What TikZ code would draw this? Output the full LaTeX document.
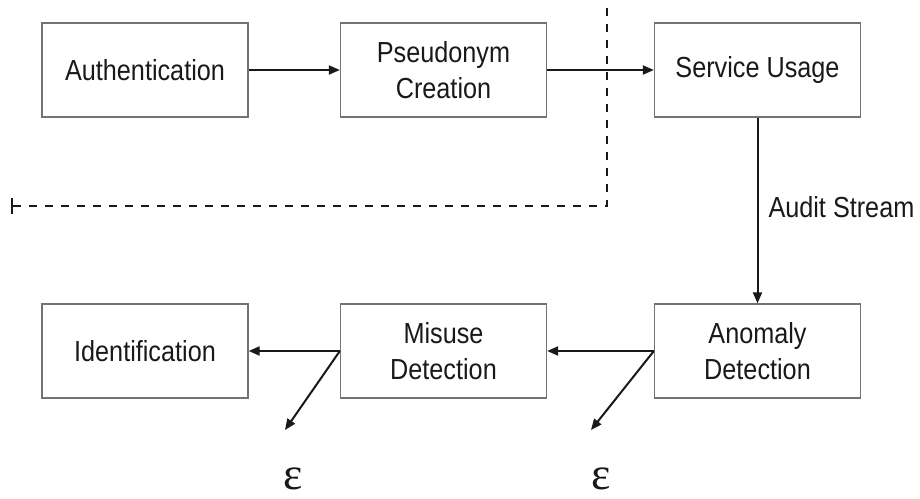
\documentclass[tikz,border=0pt]{standalone}
\usepackage{fontspec}
\setmainfont{Liberation Sans}[FakeStretch=0.87]
\newfontfamily\symserif{Liberation Serif}
\usetikzlibrary{arrows.meta}
\definecolor{boxgray}{gray}{0.45}
\definecolor{ink}{gray}{0.1}
\begin{document}
\begin{tikzpicture}[x=1pt,y=-1pt,
  label font/.style={font=\fontsize{29}{36}\selectfont, text=ink},
  box/.style={draw=boxgray, line width=1.3pt, minimum width=206pt, minimum height=94pt,
    inner sep=0pt, align=center, label font},
  flow/.style={draw=ink, line width=2pt, -{Triangle[length=11pt,width=9pt]}},
  boundary/.style={draw=ink, line width=2pt, dash pattern=on 8pt off 8pt},
  eps/.style={font=\symserif\fontsize{46}{46}\selectfont, text=ink, inner sep=0pt}]
\useasboundingbox (0,0) rectangle (920,498);

% upper row
\node[box] (auth)  at (145,70)   {Authentication};
\node[box] (pseud) at (443.5,70) {Pseudonym\\Creation};
\node[box] (serv)  at (757.5,70) {Service Usage};

% lower row
\node[box] (ident)  at (145,351)   {Identification};
\node[box] (misuse) at (443.5,351) {Misuse\\Detection};
\node[box] (anom)   at (757.5,351) {Anomaly\\Detection};

% trust boundary
\coordinate (btop) at (607,8);
\coordinate (bcorner) at (607,206);
\coordinate (bend) at (12,206);
\draw[boundary] (btop) -- (bcorner) -- (bend);
\draw[ink, line width=2pt] ([yshift=-8pt]bend) -- ([yshift=8pt]bend);

% flows
\draw[flow] (auth.east) -- (pseud.west);
\draw[flow] (pseud.east) -- (serv.west);
\draw[flow] (serv.south) -- node[right=8pt, pos=0.48, label font, inner sep=2pt] {Audit Stream} (anom.north);
\draw[flow] (anom.west) -- (misuse.east);
\draw[flow] (misuse.west) -- (ident.east);

% discarded events
\coordinate (outA) at (591,430);
\coordinate (outM) at (285,430);
\draw[flow] (anom.west) -- (outA);
\draw[flow] (misuse.west) -- (outM);
\node[eps] (epsA) at (601,479) {ε};
\node[eps] (epsM) at (293,479) {ε};
\end{tikzpicture}
\end{document}
